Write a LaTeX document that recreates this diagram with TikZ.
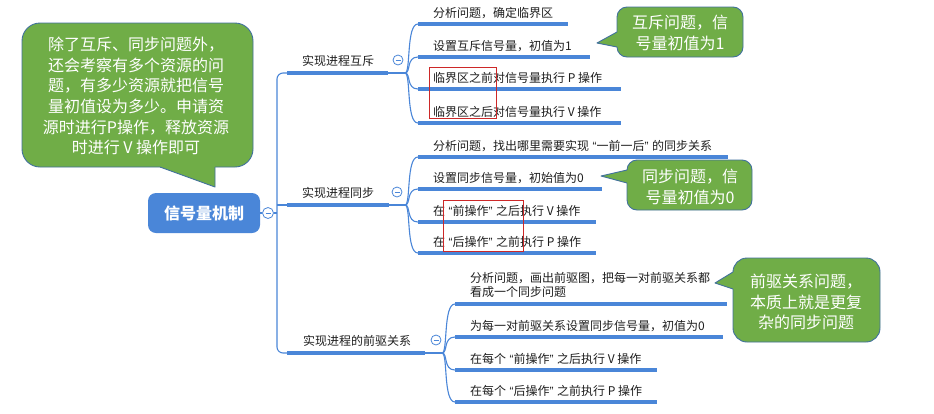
\documentclass[tikz,border=0pt]{standalone}
\usepackage{fontspec}
\setmainfont{Noto Sans CJK SC}
\newfontfamily\qfont{Liberation Sans}
\newcommand{\myoq}{{\hspace{3.5pt}\qfont “}}
\newcommand{\mycq}{{\qfont ”\hspace{3.5pt}}}
\definecolor{lblue}{RGB}{74,134,216}
\definecolor{cgreen}{RGB}{112,173,71}
\definecolor{cborder}{RGB}{65,113,156}
\definecolor{tgray}{RGB}{30,30,30}
\definecolor{redbox}{RGB}{205,40,40}
\tikzset{
  thinlink/.style={draw=lblue, line width=1.1pt},
  bar/.style={draw=lblue, line width=3.2pt},
  leaf/.style={anchor=base west, inner sep=0pt, font=\fontsize{12}{14}\selectfont, text=tgray},
  branchtext/.style={anchor=base, inner sep=0pt, font=\fontsize{12}{14}\selectfont, text=tgray},
  collapse/.style={circle, draw=lblue, fill=white, line width=0.8pt, minimum size=10pt, inner sep=0pt},
  calloutbox/.style={fill=cgreen, draw=cborder, line width=0.9pt},
  callouttext/.style={text=white, align=center, font=\fontsize{16}{20.6}\selectfont, inner sep=0pt},
  redrect/.style={draw=redbox, line width=0.9pt},
  rootbox/.style={fill=lblue, rounded corners=8pt, minimum width=112pt, minimum height=40pt, text=white, font=\fontsize{16}{18}\selectfont\bfseries, inner sep=0pt},
  kid/.style={thinlink},
}
\newcommand{\minusmark}[1]{\draw[lblue, line width=0.8pt] ([xshift=-2.5pt]#1.center) -- ([xshift=2.5pt]#1.center);}
\begin{document}
\begin{tikzpicture}[x=1pt,y=-1pt]
\useasboundingbox (0,0) rectangle (934,413);
\fill[white] (0,0) rectangle (934,413);

% ---------- callout 1 ----------
\path[calloutbox, rounded corners=18pt] (22,23) rectangle (253,167);
\fill[cgreen] (160,167) -- (160,164.5) -- (215,164.5) -- (215,187) -- cycle;
\draw[cborder, line width=0.9pt, line join=round] (160,167) -- (215,187) -- (215,167);
\node[callouttext] (call1) at (136,96) {除了互斥、同步问题外，\\还会考察有多个资源的问\\题，有多少资源就把信号\\量初值设为多少。申请资\\源时进行P操作，释放资源\\时进行 V 操作即可};

% ---------- root ----------
\node[rootbox] (root) at (204,213) {信号量机制};
\node[collapse, minimum size=11pt] (rootc) at (268,213) {};
\minusmark{rootc}

% ---------- trunk ----------
\coordinate (b1s) at (287,73);
\coordinate (b1e) at (388,73);
\coordinate (j1) at (405,73);
\coordinate (b2s) at (287,205);
\coordinate (b2e) at (389,205);
\coordinate (j2) at (405,205);
\coordinate (b3s) at (287,353);
\coordinate (b3e) at (425,353);
\coordinate (j3) at (442,353);
\coordinate (tmid) at (277,213);

\draw[thinlink, rounded corners=6pt] (b1s) -| (tmid) |- (b3s);
\draw[thinlink] (root.east) -- (rootc.west);
\draw[thinlink] (rootc.east) -- (tmid);
\draw[thinlink] (b2s -| tmid) -- (b2s);

% ---------- branch 1 ----------
\draw[bar] (b1s) -- (b1e);
\draw[thinlink] (b1e) -- (j1);
\node[branchtext] (t1) at (338,65.5) {实现进程互斥};
\node[collapse] (c1) at (398,60) {};
\minusmark{c1}

\coordinate (a1s) at (418,24);  \coordinate (a1e) at (568,24);
\coordinate (a2s) at (418,57);  \coordinate (a2e) at (590,57);
\coordinate (a3s) at (418,89);  \coordinate (a3e) at (621,89);
\coordinate (a4s) at (418,123); \coordinate (a4e) at (621,123);
\foreach \k in {a1s,a2s,a3s,a4s} {
  \draw[kid] (j1) .. controls +(6,0) and +(-12,0) .. (\k);
}
\draw[bar] (a1s) -- (a1e);
\draw[bar] (a2s) -- (a2e);
\draw[bar] (a3s) -- (a3e);
\draw[bar] (a4s) -- (a4e);
\node[leaf] (a1) at (433,17.5) {分析问题，确定临界区};
\node[leaf] (a2) at (433,50.5) {设置互斥信号量，初值为1};
\node[leaf] (a3) at (433,82.5) {临界区之前对信号量执行 P 操作};
\node[leaf] (a4) at (433,116.5) {临界区之后对信号量执行 V 操作};
\draw[redrect] (429,67) rectangle (496,118);

% ---------- branch 2 ----------
\draw[bar] (b2s) -- (b2e);
\draw[thinlink] (b2e) -- (j2);
\node[branchtext] (t2) at (338,197.5) {实现进程同步};
\node[collapse] (c2) at (397,192) {};
\minusmark{c2}

\coordinate (d1s) at (418,157); \coordinate (d1e) at (728,157);
\coordinate (d2s) at (418,189); \coordinate (d2e) at (602,189);
\coordinate (d3s) at (418,222); \coordinate (d3e) at (596,222);
\coordinate (d4s) at (418,253); \coordinate (d4e) at (596,253);
\foreach \k in {d1s,d2s,d3s,d4s} {
  \draw[kid] (j2) .. controls +(6,0) and +(-12,0) .. (\k);
}
\draw[bar] (d1s) -- (d1e);
\draw[bar] (d2s) -- (d2e);
\draw[bar] (d3s) -- (d3e);
\draw[bar] (d4s) -- (d4e);
\node[leaf] (d1) at (433,150.5) {分析问题，找出哪里需要实现\myoq 一前一后\mycq 的同步关系};
\node[leaf] (d2) at (433,182.5) {设置同步信号量，初始值为0};
\node[leaf] (d3) at (433,215.5) {在\myoq 前操作\mycq 之后执行 V 操作};
\node[leaf] (d4) at (433,246.5) {在\myoq 后操作\mycq 之前执行 P 操作};
\draw[redrect] (443,200) rectangle (523,251);

% ---------- branch 3 ----------
\draw[bar] (b3s) -- (b3e);
\draw[thinlink] (b3e) -- (j3);
\node[branchtext] (t3) at (357,345.5) {实现进程的前驱关系};
\node[collapse] (c3) at (436,340) {};
\minusmark{c3}

\coordinate (e1s) at (455,304); \coordinate (e1e) at (727,304);
\coordinate (e2s) at (455,337); \coordinate (e2e) at (723,337);
\coordinate (e3s) at (455,370); \coordinate (e3e) at (657,370);
\coordinate (e4s) at (455,402); \coordinate (e4e) at (657,402);
\foreach \k in {e1s,e2s,e3s,e4s} {
  \draw[kid] (j3) .. controls +(6,0) and +(-12,0) .. (\k);
}
\draw[bar] (e1s) -- (e1e);
\draw[bar] (e2s) -- (e2e);
\draw[bar] (e3s) -- (e3e);
\draw[bar] (e4s) -- (e4e);
\node[leaf] (e1a) at (470,282.5) {分析问题，画出前驱图，把每一对前驱关系都};
\node[leaf] (e1b) at (470,296.5) {看成一个同步问题};
\node[leaf] (e2) at (470,330.5) {为每一对前驱关系设置同步信号量，初值为0};
\node[leaf] (e3) at (470,363.5) {在每个\myoq 前操作\mycq 之后执行 V 操作};
\node[leaf] (e4) at (470,395.5) {在每个\myoq 后操作\mycq 之前执行 P 操作};

% ---------- callout 2 ----------
\path[calloutbox, rounded corners=10pt] (617,7) rectangle (743,57);
\fill[cgreen] (617,32) -- (597,43) -- (617,47) -- (619.5,47) -- (619.5,32) -- cycle;
\draw[cborder, line width=0.9pt, line join=round] (617,32) -- (597,43) -- (617,47);
\node[callouttext] (call2) at (680,33) {互斥问题，信\\号量初值为1};

% ---------- callout 3 ----------
\path[calloutbox, rounded corners=10pt] (627,160) rectangle (752,210);
\fill[cgreen] (627,170) -- (601,176) -- (627,183) -- (629.5,183) -- (629.5,170) -- cycle;
\draw[cborder, line width=0.9pt, line join=round] (627,170) -- (601,176) -- (627,183);
\node[callouttext] (call3) at (690,187) {同步问题，信\\号量初值为0};

% ---------- callout 4 ----------
\path[calloutbox, rounded corners=14pt] (733,258) rectangle (880,342);
\fill[cgreen] (733,272) -- (715,283) -- (733,289) -- (735.5,289) -- (735.5,272) -- cycle;
\draw[cborder, line width=0.9pt, line join=round] (733,272) -- (715,283) -- (733,289);
\node[callouttext] (call4) at (806,302) {前驱关系问题，\\本质上就是更复\\杂的同步问题};
\end{tikzpicture}
\end{document}
